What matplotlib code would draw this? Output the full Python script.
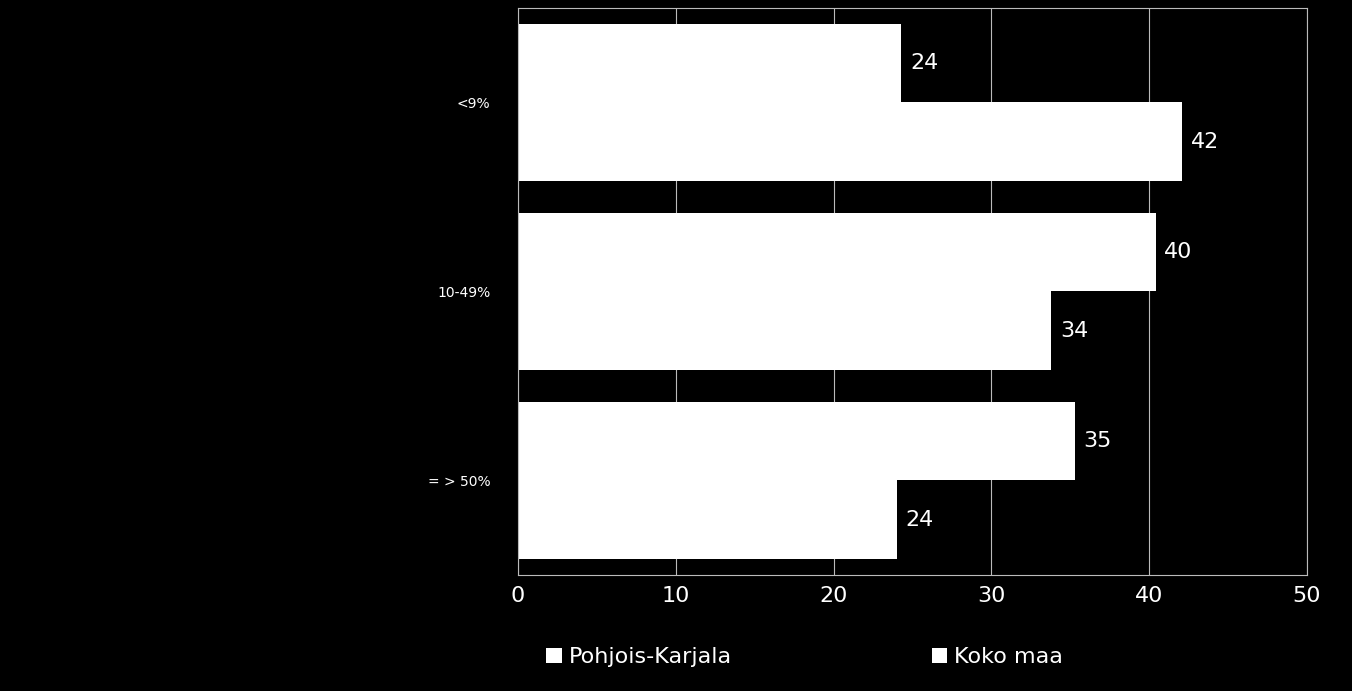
import matplotlib
matplotlib.use("Agg")
import matplotlib.pyplot as plt
import numpy as np

categories = ["<9%", "10-49%", "= > 50%"]
pohjois = [24.3, 40.4, 35.3]
koko = [42.1, 33.8, 24.0]
pohjois_lbl = [24, 40, 35]
koko_lbl = [42, 34, 24]

fig = plt.figure(figsize=(13.52, 6.91), dpi=100, facecolor="black")
ax = fig.add_axes([518/1352, 1-575/691, (1307-518)/1352, (575-8)/691], facecolor="black")
y = np.arange(len(categories))
h = 0.415
b1 = ax.barh(y - h/2, pohjois, height=h, color="white", label="Pohjois-Karjala")
b2 = ax.barh(y + h/2, koko, height=h, color="white", label="Koko maa")
for bars, lbls in ((b1, pohjois_lbl), (b2, koko_lbl)):
    for bar, l in zip(bars, lbls):
        ax.text(bar.get_width() + 0.55, bar.get_y() + bar.get_height()/2, str(l),
                color="white", fontsize=16, va="center", ha="left")
ax.set_ylim(2.5, -0.5)
ax.set_xlim(0, 50)
ax.set_xticks(range(0, 51, 10))
ax.set_yticks(y)
ax.set_yticklabels(categories)
ax.tick_params(axis="x", colors="white", labelsize=16, length=0, pad=8)
ax.tick_params(axis="y", colors="white", labelsize=10, length=0, pad=20)
ax.grid(axis="x", color="#bbbbbb", linewidth=0.8)
ax.set_axisbelow(True)
for s in ax.spines.values():
    s.set_color("#bbbbbb")
leg = fig.legend(handles=[b1, b2], loc="center", bbox_to_anchor=(0.595, 0.049), ncol=2,
                 frameon=False, fontsize=16, labelcolor="white", columnspacing=9,
                 handlelength=0.7, handleheight=0.7, handletextpad=0.3)
fig.savefig("out.png", dpi=100, facecolor="black")
